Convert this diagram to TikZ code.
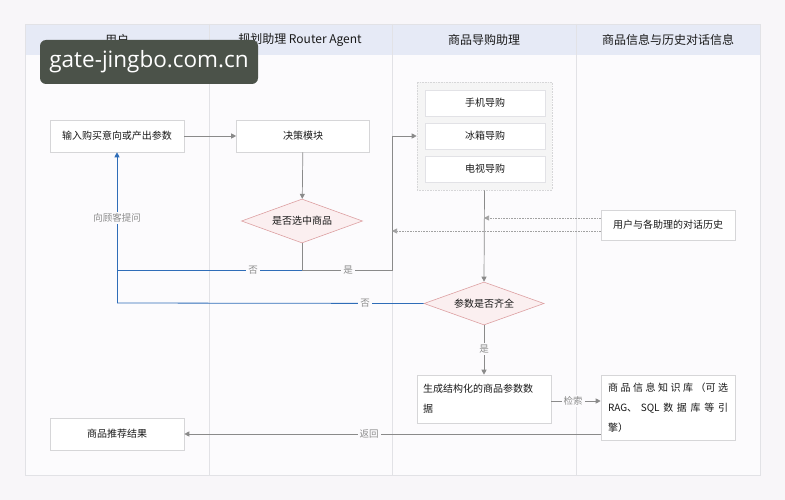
\documentclass[tikz,border=0pt]{standalone}
\usepackage{fontspec}
\setmainfont{Noto Sans CJK SC}
\newfontfamily\wmfont{Open Sans}
\XeTeXlinebreaklocale "zh"
\XeTeXlinebreakskip=0pt plus 3pt
\usetikzlibrary{arrows.meta,shapes.geometric}
\definecolor{bgc}{HTML}{F8F6F9}
\definecolor{framec}{HTML}{FCFBFD}
\definecolor{headc}{HTML}{E6EAF6}
\definecolor{linec}{HTML}{E2E2E6}
\definecolor{boxb}{HTML}{D6D6D8}
\definecolor{arr}{HTML}{8A8A8A}
\definecolor{bluec}{HTML}{2F6DB8}
\definecolor{dia}{HTML}{DDA0A2}
\definecolor{diaf}{HTML}{FBEFF0}
\definecolor{lbl}{HTML}{8C8C8C}
\definecolor{wm}{HTML}{4B5249}
\tikzset{
  box/.style={draw=boxb, fill=white, line width=0.6pt, font=\fontsize{10}{20}\selectfont, text=black!90},
  inner/.style={draw=linec, fill=white, line width=0.5pt, minimum width=120pt, minimum height=26pt, font=\fontsize{10}{11}\selectfont, text=black!90},
  decision/.style={diamond, aspect=2.75, draw=dia, fill=diaf, line width=0.6pt, inner sep=1pt, font=\fontsize{10}{11}\selectfont, text=black!90},
  flow/.style={draw=arr, line width=0.7pt, -{Triangle[length=5pt,width=5pt]}},
  plain/.style={draw=arr, line width=0.7pt},
  blue/.style={draw=bluec, line width=0.8pt},
  lab/.style={fill=framec, text=lbl, font=\fontsize{9.5}{10}\selectfont, inner sep=2pt},
  head/.style={font=\fontsize{12}{13}\selectfont, text=black!90}
}
\begin{document}
\begin{tikzpicture}[x=1pt,y=-1pt]
\useasboundingbox (0,0) rectangle (785,500);
\fill[bgc] (0,0) rectangle (785,500);
% frame
\fill[framec] (25,24) rectangle (760,475);
\fill[headc] (25,24) rectangle (760,55);
\draw[linec, line width=0.6pt] (25,24) rectangle (760,475);
\foreach \x in {209,392,576} \draw[linec, line width=0.6pt] (\x,24) -- (\x,475);
\node[head] (h1) at (117,40) {用户};
\node[head] (h2) at (300,40) {规划助理 Router Agent};
\node[head] (h3) at (484,40) {商品导购助理};
\node[head] (h4) at (668,40) {商品信息与历史对话信息};

% nodes
\node[box, minimum width=134pt, minimum height=32pt] (input) at (117,136) {输入购买意向或产出参数};
\node[box, minimum width=133pt, minimum height=32pt] (decide) at (303,136) {决策模块};
\node[draw=boxb, densely dotted, fill=black!4, line width=0.6pt, minimum width=135pt, minimum height=108pt] (group) at (484.5,136) {};
\node[inner] (g1) at (485,103) {手机导购};
\node[inner] (g2) at (485,136) {冰箱导购};
\node[inner] (g3) at (485,169) {电视导购};
\node[decision, minimum width=121pt, minimum height=44pt] (sel) at (302,221) {是否选中商品};
\node[decision, minimum width=120pt, minimum height=43pt] (param) at (484,303.5) {参数是否齐全};
\node[box, minimum width=134pt, minimum height=30pt] (hist) at (668,225) {用户与各助理的对话历史};
\node[box, minimum width=134pt, minimum height=48pt, align=left, inner sep=0pt, text width=122pt] (gen) at (484,399) {生成结构化的商品参数数\\据};
\node[box, minimum width=134pt, minimum height=65pt, align=justify, inner sep=0pt, text width=120pt] (kb) at (668,407.5) {商品信息知识库（可选\linebreak RAG、SQL数据库等引\linebreak 擎）};
\node[box, minimum width=134pt, minimum height=32pt] (result) at (117,434) {商品推荐结果};

\coordinate (c1) at (302,270);
\coordinate (c2) at (392,270);
\coordinate (c3) at (392,136);
\coordinate (c4) at (117,270);
\coordinate (c5) at (117,303);
\coordinate (d1) at (484,218);
\coordinate (d2) at (392,231);

% connectors
\draw[flow] (input) -- (decide);
\draw[flow] (decide) -- (sel);
\draw[plain] (sel.south) -- (c1) -- (c2) -- (c3);
\draw[flow] (c3) -- (group.west);
\draw[blue] (c1) -- (c4);
\draw[blue, -{Triangle[length=5pt,width=5pt]}] (c5) -- (input.south);
\draw[blue] (param.west) -- (c5);
\node[lab] (lno1) at (253,270) {否};
\node[lab] (lyes1) at (348,270) {是};
\node[lab] (lask) at (117,218) {向顾客提问};
\node[lab] (lno2) at (365,303) {否};
\draw[flow] (group.south) -- (param.north);
\draw[draw=arr!80, line width=0.6pt, densely dotted, -{Triangle[length=5pt,width=5pt]}] (hist.west |- d1) -- (d1);
\draw[draw=arr!80, line width=0.6pt, densely dotted, -{Triangle[length=5pt,width=5pt]}] (hist.west |- d2) -- (d2);
\draw[flow] (param.south) -- (gen.north);
\node[lab] (lyes2) at (484,349) {是};
\draw[flow] (gen.east |- 0,401) -- (kb.west |- 0,401);
\node[lab] (lsearch) at (573,401) {检索};
\draw[flow] (kb.west |- result.east) -- (result.east);
\node[lab] (lret) at (369,434) {返回};

% watermark
\node[fill=wm, rounded corners=6pt, minimum width=218pt, minimum height=44pt, text=white, font=\wmfont\fontsize{22.5}{24}\selectfont] (wmk) at (149,62) {gate-jingbo.com.cn};
\end{tikzpicture}
\end{document}
